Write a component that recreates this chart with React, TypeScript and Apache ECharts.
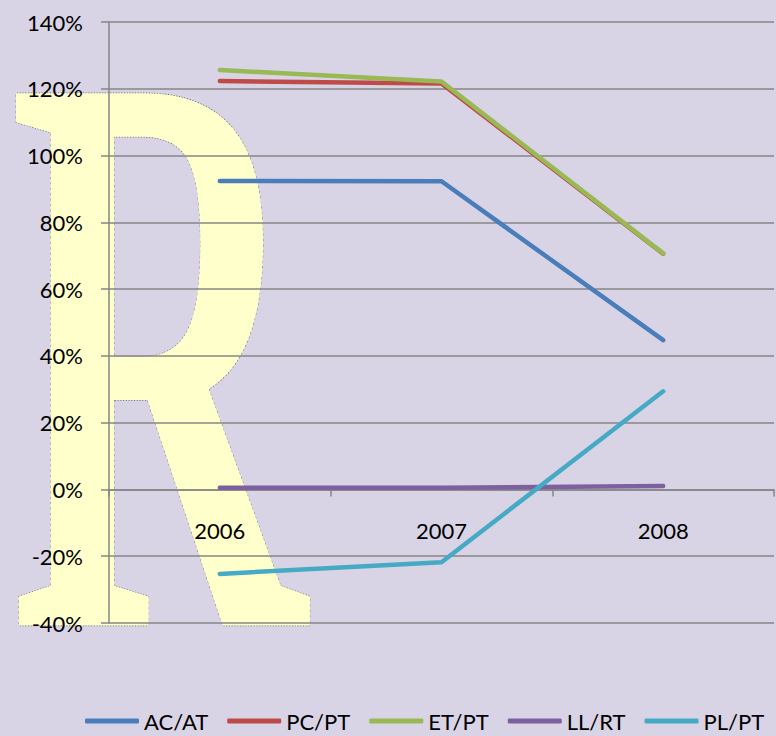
import React, { useEffect, useRef } from "react";
import * as echarts from "echarts";

const categories = ["2006", "2007", "2008"];
const seriesNames = ["AC/AT", "PC/PT", "ET/PT", "LL/RT", "PL/PT"];
const acAt = [92.4, 92.3, 44.7];
const pcPt = [122.3, 121.6, 70.6];
const etPt = [125.6, 122.2, 70.7];
const llRt = [0.5, 0.5, 1.0];
const plPt = [-25.3, -21.8, 29.4];
const seriesColors = ["#4A7EBB", "#BE4B48", "#98B954", "#7D60A0", "#46AAC5"];
const yMin = -40;
const yMax = 140;
const yStep = 20;

const FONT = "Lato, 'Open Sans', sans-serif";

export default function App() {
  const ref = useRef<HTMLDivElement>(null);
  useEffect(() => {
    if (!ref.current) return;
    const chart = echarts.init(ref.current, null, { renderer: "svg" });
    const values = [acAt, pcPt, etPt, llRt, plPt];
    const gridTop = 22;
    const gridBottomPx = 623;
    const zeroPx = gridTop + ((yMax - 0) / (yMax - yMin)) * (gridBottomPx - gridTop);
    chart.setOption({
      animation: false,
      backgroundColor: "#D8D4E6",
      textStyle: { fontFamily: FONT },
      graphic: [
        {
          type: "text",
          z: -10,
          x: 9,
          y: -55.4,
          scaleX: 0.686,
          scaleY: 1.3545,
          silent: true,
          style: {
            text: "R",
            font: "bold 600px 'Liberation Serif'",
            fill: "#FFFFCC",
            stroke: "#5a5a50",
            lineWidth: 1,
            lineDash: [1.5, 2.5],
            verticalAlign: "top",
            align: "left",
          },
        },
      ],
      grid: { left: 109, right: 2, top: gridTop, bottom: 736 - gridBottomPx, containLabel: false },
      legend: {
        left: 85,
        top: 710,
        width: 691,
        padding: 0,
        itemWidth: 54,
        itemHeight: 5,
        itemGap: 19,
        textStyle: { fontSize: 22, color: "#000", fontFamily: FONT },
        data: seriesNames.map((n) => ({ name: n, icon: "roundRect" })),
      },
      xAxis: {
        type: "category",
        data: categories,
        boundaryGap: true,
        offset: -(gridBottomPx - zeroPx),
        axisLine: { onZero: false, lineStyle: { color: "#868686", width: 1.5 } },
        axisTick: { show: true, length: 7, lineStyle: { color: "#868686", width: 1.5 } },
        axisLabel: { margin: 30, fontSize: 22, color: "#000", fontFamily: FONT },
        splitLine: { show: false },
      },
      yAxis: {
        type: "value",
        min: yMin,
        max: yMax,
        interval: yStep,
        axisLine: { show: true, lineStyle: { color: "#868686", width: 1.5 } },
        axisTick: { show: true, length: 8, lineStyle: { color: "#868686", width: 1.5 } },
        axisLabel: {
          margin: 26,
          fontSize: 22,
          color: "#000",
          fontFamily: FONT,
          formatter: "{value}%",
        },
        splitLine: { show: true, lineStyle: { color: "#868686", width: 1.5 } },
      },
      series: seriesNames.map((name, i) => ({
        name,
        type: "line",
        data: values[i],
        symbol: "none",
        showSymbol: false,
        color: seriesColors[i],
        lineStyle: { width: 4.5, color: seriesColors[i], cap: "round", join: "round" },
        z: 2 + i,
      })),
    });
    return () => chart.dispose();
  }, []);
  return <div ref={ref} style={{ width: 776, height: 736, position: "absolute", left: 0, top: 0 }} />;
}
